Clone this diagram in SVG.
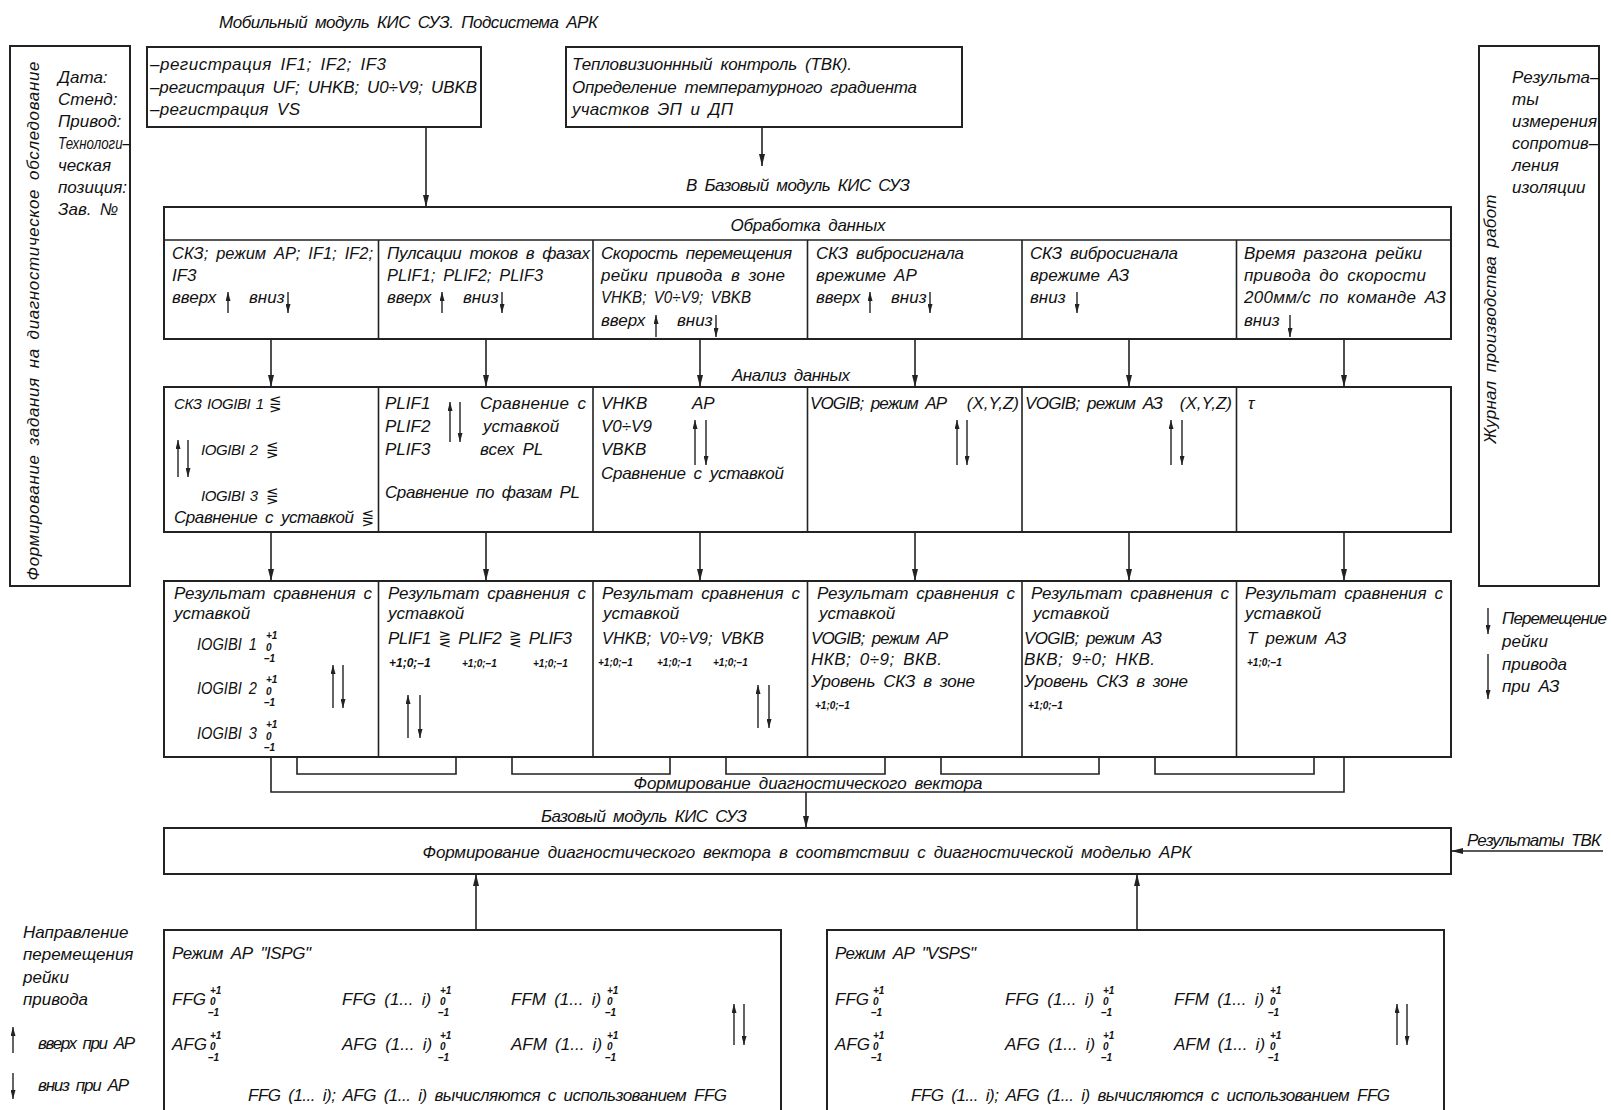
<svg xmlns="http://www.w3.org/2000/svg" width="1611" height="1110" viewBox="0 0 1611 1110">
<defs>
<style>
.t{font-family:"Liberation Sans",Arial,sans-serif;font-style:italic;font-size:17px;fill:#111;word-spacing:3.5px}
.c{font-size:15px;letter-spacing:-0.4px;word-spacing:1.5px}
.m{text-anchor:middle}
.e{text-anchor:end}
.sm{font-size:10px;font-weight:bold;word-spacing:0}
.sm2{font-size:12px;font-weight:bold;word-spacing:0}
.sy{font-family:"DejaVu Sans",sans-serif;font-style:normal;font-size:15px;fill:#111}
.box{fill:none;stroke:#222;stroke-width:2}
.ln{fill:none;stroke:#222;stroke-width:1.6}
.ar{fill:none;stroke:#222;stroke-width:1.6;marker-end:url(#ah)}
.sa{fill:none;stroke:#222;stroke-width:1.4;marker-end:url(#ahs)}
</style>
<marker id="ah" viewBox="0 0 12 6" refX="12" refY="3" markerWidth="12" markerHeight="6" markerUnits="userSpaceOnUse" orient="auto"><path d="M0,0 L12,3 L0,6 z" fill="#222"/></marker>
<marker id="ahs" viewBox="0 0 9 5" refX="9" refY="2.5" markerWidth="9" markerHeight="5" markerUnits="userSpaceOnUse" orient="auto"><path d="M0,0 L9,2.5 L0,5 z" fill="#222"/></marker>
</defs>
<rect width="1611" height="1110" fill="#fff"/>

<text class="t" x="219" y="28" textLength="379">Мобильный модуль КИС СУЗ. Подсистема АРК</text>

<g id="task">
<rect class="box" x="10" y="46" width="120" height="540"/>
<text class="t m" transform="translate(39,321) rotate(-90)" textLength="519">Формирование задания на диагностическое обследование</text>
<text class="t" x="58" y="83">Дата:</text>
<text class="t" x="58" y="105">Стенд:</text>
<text class="t" x="58" y="127">Привод:</text>
<text class="t" x="58" y="149" textLength="72" lengthAdjust="spacingAndGlyphs">Технологи–</text>
<text class="t" x="58" y="171">ческая</text>
<text class="t" x="58" y="193">позиция:</text>
<text class="t" x="58" y="215">Зав. №</text>
</g>

<g id="journal">
<rect class="box" x="1479" y="46" width="120" height="540"/>
<text class="t m" transform="translate(1496,319) rotate(-90)" textLength="249">Журнал производства работ</text>
<text class="t" x="1512" y="83">Результа–</text>
<text class="t" x="1512" y="105">ты</text>
<text class="t" x="1512" y="127">измерения</text>
<text class="t" x="1512" y="149" textLength="86" lengthAdjust="spacingAndGlyphs">сопротив–</text>
<text class="t" x="1512" y="171">ления</text>
<text class="t" x="1512" y="193">изоляции</text>
</g>

<g id="registration">
<rect class="box" x="147" y="47" width="334" height="80"/>
<text class="t" x="150" y="70" textLength="236">–регистрация IF1; IF2; IF3</text>
<text class="t" x="150" y="93" textLength="327">–регистрация UF; UHKB; U0÷V9; UBKB</text>
<text class="t" x="150" y="115" textLength="150">–регистрация VS</text>
</g>

<g id="tvk">
<rect class="box" x="566" y="47" width="396" height="80"/>
<text class="t" x="572" y="70" textLength="280">Тепловизионнный контроль (ТВК).</text>
<text class="t" x="572" y="93" textLength="345">Определение температурного градиента</text>
<text class="t" x="572" y="115" textLength="161">участков ЭП и ДП</text>
</g>

<text class="t" x="686" y="191" textLength="224">В Базовый модуль КИС СУЗ</text>

<g id="processing">
<rect class="box" x="164" y="207" width="1287" height="132"/>
<path class="ln" d="M164 240 H1451 M378.5 240 V339 M593 240 V339 M807.5 240 V339 M1022 240 V339 M1236.5 240 V339"/>
<text class="t m" x="808" y="231" textLength="155">Обработка данных</text>
<g id="proc-1">
<text class="t" x="172" y="259" textLength="201" lengthAdjust="spacingAndGlyphs">СКЗ; режим АР; IF1; IF2;</text>
<text class="t" x="172" y="281">IF3</text>
<text class="t" x="172" y="303">вверх</text><path class="sa" d="M228 313 V292"/>
<text class="t" x="249" y="303">вниз</text><path class="sa" d="M288 292 V313"/>
</g>
<g id="proc-2">
<text class="t" x="387" y="259" textLength="203">Пулсации токов в фазах</text>
<text class="t" x="387" y="281" textLength="156" lengthAdjust="spacingAndGlyphs">PLIF1; PLIF2; PLIF3</text>
<text class="t" x="387" y="303">вверх</text><path class="sa" d="M442 313 V292"/>
<text class="t" x="463" y="303">вниз</text><path class="sa" d="M502 292 V313"/>
</g>
<g id="proc-3">
<text class="t" x="601" y="259" textLength="191">Скорость перемещения</text>
<text class="t" x="601" y="281" textLength="184">рейки привода в зоне</text>
<text class="t" x="601" y="303" textLength="150" lengthAdjust="spacingAndGlyphs">VHKB; V0÷V9; VBKB</text>
<text class="t" x="601" y="326">вверх</text><path class="sa" d="M656 337 V315"/>
<text class="t" x="677" y="326">вниз</text><path class="sa" d="M716 315 V337"/>
</g>
<g id="proc-4">
<text class="t" x="816" y="259" textLength="148">СКЗ вибросигнала</text>
<text class="t" x="816" y="281">врежиме АР</text>
<text class="t" x="816" y="303">вверх</text><path class="sa" d="M870 313 V292"/>
<text class="t" x="891" y="303">вниз</text><path class="sa" d="M930 292 V313"/>
</g>
<g id="proc-5">
<text class="t" x="1030" y="259" textLength="148">СКЗ вибросигнала</text>
<text class="t" x="1030" y="281">врежиме АЗ</text>
<text class="t" x="1030" y="303">вниз</text><path class="sa" d="M1077 292 V313"/>
</g>
<g id="proc-6">
<text class="t" x="1244" y="259" textLength="178">Время разгона рейки</text>
<text class="t" x="1244" y="281" textLength="182">привода до скорости</text>
<text class="t" x="1244" y="303" textLength="202">200мм/с по команде АЗ</text>
<text class="t" x="1244" y="326">вниз</text><path class="sa" d="M1290 315 V337"/>
</g>
</g>

<text class="t" x="732" y="381" textLength="118">Анализ данных</text>

<g id="analysis">
<rect class="box" x="164" y="387" width="1287" height="145"/>
<path class="ln" d="M378.5 387 V532 M593 387 V532 M807.5 387 V532 M1022 387 V532 M1236.5 387 V532"/>
<g id="an-1">
<text class="t c" x="174" y="409">СКЗ IOGIBI 1</text><text class="sy" x="269" y="409">⋚</text>
<path class="sa" d="M178 477 V440"/><path class="sa" d="M188 440 V477"/>
<text class="t c" x="201" y="455">IOGIBI 2</text><text class="sy" x="266" y="455">⋚</text>
<text class="t c" x="201" y="501">IOGIBI 3</text><text class="sy" x="266" y="501">⋚</text>
<text class="t" x="174" y="523" textLength="200">Сравнение с уставкой <tspan class="sy">⋚</tspan></text>
</g>
<g id="an-2">
<text class="t" x="385" y="409">PLIF1</text>
<text class="t" x="385" y="432">PLIF2</text>
<text class="t" x="385" y="455">PLIF3</text>
<path class="sa" d="M450 442 V402"/><path class="sa" d="M460 402 V442"/>
<text class="t" x="480" y="409" textLength="106">Сравнение с</text>
<text class="t" x="483" y="432">уставкой</text>
<text class="t" x="480" y="455">всех PL</text>
<text class="t" x="385" y="498" textLength="195">Сравнение по фазам PL</text>
</g>
<g id="an-3">
<text class="t" x="601" y="409">VHKB</text>
<text class="t" x="692" y="409">AP</text>
<text class="t" x="601" y="432">V0÷V9</text>
<text class="t" x="601" y="455">VBKB</text>
<path class="sa" d="M695 465 V420"/><path class="sa" d="M706 420 V465"/>
<text class="t" x="601" y="479" textLength="183">Сравнение с уставкой</text>
</g>
<g id="an-4">
<text class="t" x="810" y="409" textLength="137">VOGIB; режим АР</text>
<text class="t e" x="1019" y="409">(X,Y,Z)</text>
<path class="sa" d="M957 465 V420"/><path class="sa" d="M967 420 V465"/>
</g>
<g id="an-5">
<text class="t" x="1025" y="409" textLength="138">VOGIB; режим АЗ</text>
<text class="t e" x="1232" y="409">(X,Y,Z)</text>
<path class="sa" d="M1171 465 V420"/><path class="sa" d="M1182 420 V465"/>
</g>
<g id="an-6">
<text class="t" x="1248" y="409">τ</text>
</g>
</g>

<g id="results">
<rect class="box" x="164" y="581" width="1287" height="176"/>
<path class="ln" d="M378.5 581 V757 M593 581 V757 M807.5 581 V757 M1022 581 V757 M1236.5 581 V757"/>
<g id="res-1">
<text class="t" x="174" y="599" textLength="198">Результат сравнения с</text>
<text class="t" x="174" y="619">уставкой</text>
<text class="t" x="197" y="650" textLength="60" lengthAdjust="spacingAndGlyphs">IOGIBI 1</text>
<text class="t sm" x="266" y="639">+1</text><text class="t sm" x="266" y="651">0</text><text class="t sm" x="264" y="662">–1</text>
<text class="t" x="197" y="694" textLength="60" lengthAdjust="spacingAndGlyphs">IOGIBI 2</text>
<text class="t sm" x="266" y="683">+1</text><text class="t sm" x="266" y="695">0</text><text class="t sm" x="264" y="706">–1</text>
<text class="t" x="197" y="739" textLength="60" lengthAdjust="spacingAndGlyphs">IOGIBI 3</text>
<text class="t sm" x="266" y="728">+1</text><text class="t sm" x="266" y="740">0</text><text class="t sm" x="264" y="751">–1</text>
<path class="sa" d="M333 708 V665"/><path class="sa" d="M343 665 V708"/>
</g>
<g id="res-2">
<text class="t" x="388" y="599" textLength="198">Результат сравнения с</text>
<text class="t" x="388" y="619">уставкой</text>
<text class="t" x="388" y="644" textLength="184">PLIF1 <tspan class="sy">⋛</tspan> PLIF2 <tspan class="sy">⋛</tspan> PLIF3</text>
<text class="t sm2" x="389" y="667">+1;0;–1</text>
<text class="t sm" x="462" y="667">+1;0;–1</text>
<text class="t sm" x="533" y="667">+1;0;–1</text>
<path class="sa" d="M408 738 V695"/><path class="sa" d="M420 695 V738"/>
</g>
<g id="res-3">
<text class="t" x="602" y="599" textLength="198">Результат сравнения с</text>
<text class="t" x="603" y="619">уставкой</text>
<text class="t" x="602" y="644" textLength="162" lengthAdjust="spacingAndGlyphs">VHKB; V0÷V9; VBKB</text>
<text class="t sm" x="598" y="666">+1;0;–1</text>
<text class="t sm" x="657" y="666">+1;0;–1</text>
<text class="t sm" x="713" y="666">+1;0;–1</text>
<path class="sa" d="M758 728 V685"/><path class="sa" d="M769 685 V728"/>
</g>
<g id="res-4">
<text class="t" x="817" y="599" textLength="198">Результат сравнения с</text>
<text class="t" x="819" y="619">уставкой</text>
<text class="t" x="811" y="644" textLength="137">VOGIB; режим АР</text>
<text class="t" x="811" y="665" textLength="131">НКВ; 0÷9; ВКВ.</text>
<text class="t" x="811" y="687" textLength="164">Уровень СКЗ в зоне</text>
<text class="t sm" x="815" y="709">+1;0;–1</text>
</g>
<g id="res-5">
<text class="t" x="1031" y="599" textLength="198">Результат сравнения с</text>
<text class="t" x="1033" y="619">уставкой</text>
<text class="t" x="1024" y="644" textLength="138">VOGIB; режим АЗ</text>
<text class="t" x="1024" y="665" textLength="131">ВКВ; 9÷0; НКВ.</text>
<text class="t" x="1024" y="687" textLength="164">Уровень СКЗ в зоне</text>
<text class="t sm" x="1028" y="709">+1;0;–1</text>
</g>
<g id="res-6">
<text class="t" x="1245" y="599" textLength="198">Результат сравнения с</text>
<text class="t" x="1245" y="619">уставкой</text>
<text class="t" x="1247" y="644">T режим АЗ</text>
<text class="t sm" x="1247" y="666">+1;0;–1</text>
</g>
</g>

<g id="legend-az">
<path class="sa" d="M1488 608 V634"/>
<path class="sa" d="M1488 654 V699"/>
<text class="t" x="1502" y="624" textLength="105">Перемещение</text>
<text class="t" x="1502" y="647">рейки</text>
<text class="t" x="1502" y="670">привода</text>
<text class="t" x="1502" y="692">при АЗ</text>
</g>

<text class="t m" x="808" y="789" textLength="349">Формирование диагностического вектора</text>
<text class="t" x="541" y="822" textLength="206">Базовый модуль КИС СУЗ</text>

<g id="diag-vector">
<rect class="box" x="164" y="828" width="1287" height="46"/>
<text class="t m" x="807" y="858" textLength="769">Формирование диагностического вектора в соотвтствии с диагностической моделью  АРК</text>
</g>

<text class="t" x="1467" y="846" textLength="134">Результаты ТВК</text>

<g id="ispg">
<rect class="box" x="164" y="930" width="617" height="200"/>
<text class="t" x="172" y="959" textLength="139">Режим АР "ISPG"</text>
<text class="t" x="172" y="1005">FFG</text>
<text class="t sm" x="210" y="994">+1</text><text class="t sm" x="210" y="1005">0</text><text class="t sm" x="208" y="1016">–1</text>
<text class="t" x="342" y="1005">FFG (1... i)</text>
<text class="t sm" x="440" y="994">+1</text><text class="t sm" x="440" y="1005">0</text><text class="t sm" x="438" y="1016">–1</text>
<text class="t" x="511" y="1005">FFM (1... i)</text>
<text class="t sm" x="607" y="994">+1</text><text class="t sm" x="607" y="1005">0</text><text class="t sm" x="605" y="1016">–1</text>
<text class="t" x="172" y="1050">AFG</text>
<text class="t sm" x="210" y="1039">+1</text><text class="t sm" x="210" y="1050">0</text><text class="t sm" x="208" y="1061">–1</text>
<text class="t" x="342" y="1050">AFG (1... i)</text>
<text class="t sm" x="440" y="1039">+1</text><text class="t sm" x="440" y="1050">0</text><text class="t sm" x="438" y="1061">–1</text>
<text class="t" x="511" y="1050">AFM (1... i)</text>
<text class="t sm" x="607" y="1039">+1</text><text class="t sm" x="607" y="1050">0</text><text class="t sm" x="605" y="1061">–1</text>
<path class="sa" d="M734 1045 V1004"/><path class="sa" d="M744 1004 V1045"/>
<text class="t" x="248" y="1101" textLength="479">FFG (1... i); AFG (1... i) вычисляются с использованием FFG</text>
</g>

<g id="vsps">
<rect class="box" x="827" y="930" width="617" height="200"/>
<text class="t" x="835" y="959" textLength="141">Режим АР "VSPS"</text>
<text class="t" x="835" y="1005">FFG</text>
<text class="t sm" x="873" y="994">+1</text><text class="t sm" x="873" y="1005">0</text><text class="t sm" x="871" y="1016">–1</text>
<text class="t" x="1005" y="1005">FFG (1... i)</text>
<text class="t sm" x="1103" y="994">+1</text><text class="t sm" x="1103" y="1005">0</text><text class="t sm" x="1101" y="1016">–1</text>
<text class="t" x="1174" y="1005">FFM (1... i)</text>
<text class="t sm" x="1270" y="994">+1</text><text class="t sm" x="1270" y="1005">0</text><text class="t sm" x="1268" y="1016">–1</text>
<text class="t" x="835" y="1050">AFG</text>
<text class="t sm" x="873" y="1039">+1</text><text class="t sm" x="873" y="1050">0</text><text class="t sm" x="871" y="1061">–1</text>
<text class="t" x="1005" y="1050">AFG (1... i)</text>
<text class="t sm" x="1103" y="1039">+1</text><text class="t sm" x="1103" y="1050">0</text><text class="t sm" x="1101" y="1061">–1</text>
<text class="t" x="1174" y="1050">AFM (1... i)</text>
<text class="t sm" x="1270" y="1039">+1</text><text class="t sm" x="1270" y="1050">0</text><text class="t sm" x="1268" y="1061">–1</text>
<path class="sa" d="M1397 1045 V1004"/><path class="sa" d="M1407 1004 V1045"/>
<text class="t" x="911" y="1101" textLength="479">FFG (1... i); AFG (1... i) вычисляются с использованием FFG</text>
</g>

<g id="legend-ap">
<text class="t" x="23" y="938">Направление</text>
<text class="t" x="23" y="960">перемещения</text>
<text class="t" x="23" y="983">рейки</text>
<text class="t" x="23" y="1005">привода</text>
<path class="sa" d="M13 1053 V1027"/>
<text class="t" x="38" y="1049" textLength="97">вверх при АР</text>
<path class="sa" d="M13 1073 V1099"/>
<text class="t" x="38" y="1091" textLength="91">вниз при АР</text>
</g>

<g id="connectors">
<path class="ar" d="M426 127 V207"/>
<path class="ar" d="M762 127 V166"/>
<path class="ar" d="M271 339 V387"/>
<path class="ar" d="M486 339 V387"/>
<path class="ar" d="M700 339 V387"/>
<path class="ar" d="M915 339 V387"/>
<path class="ar" d="M1129 339 V387"/>
<path class="ar" d="M1344 339 V387"/>
<path class="ar" d="M271 532 V581"/>
<path class="ar" d="M486 532 V581"/>
<path class="ar" d="M700 532 V581"/>
<path class="ar" d="M915 532 V581"/>
<path class="ar" d="M1129 532 V581"/>
<path class="ar" d="M1344 532 V581"/>
<path class="ln" d="M297 757 V774 H456 V757 M512 757 V774 H670 V757 M726 757 V774 H885 V757 M941 757 V774 H1099 V757 M1155 757 V774 H1314 V757"/>
<path class="ln" d="M271 757 V792 H1344 V757"/>
<path class="ar" d="M806 792 V828"/>
<path class="ar" d="M1603 851 H1451"/>
<path class="ar" d="M476 930 V874"/>
<path class="ar" d="M1137 930 V874"/>
</g>
</svg>
